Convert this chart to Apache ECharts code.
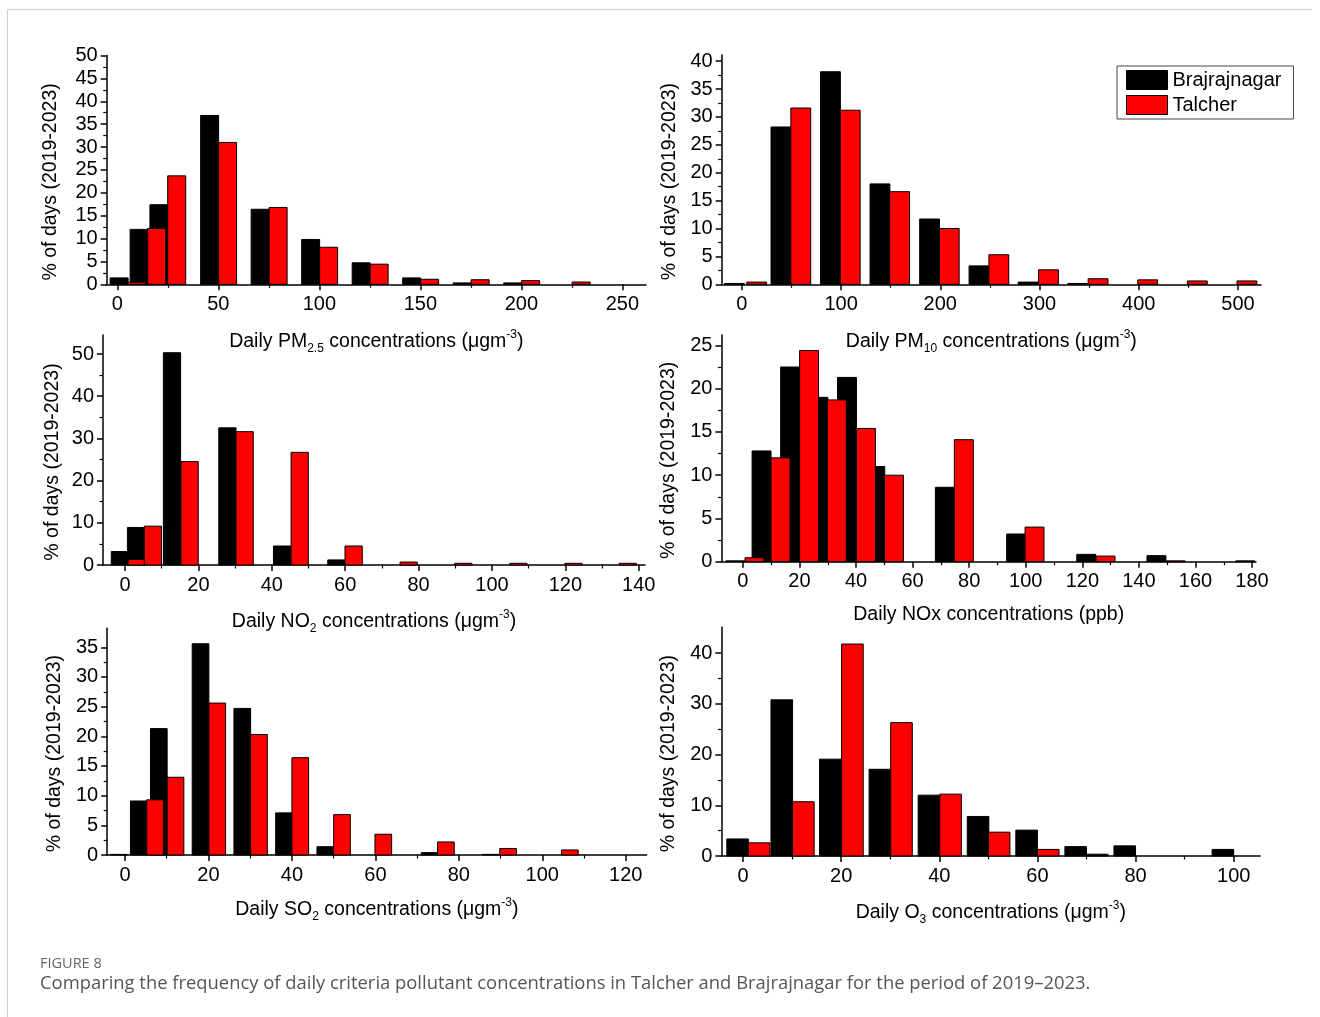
<!DOCTYPE html>
<html>
<head>
<meta charset="utf-8">
<script src="https://cdn.jsdelivr.net/npm/echarts@6/dist/echarts.min.js"></script>
<style>
html,body{margin:0;padding:0;background:#fff;}
#chart{width:1320px;height:1017px;}
</style>
</head>
<body>
<div id="chart"></div>
<script>
// ================= DATA =================
const stationNames = ['Brajrajnagar', 'Talcher'];

// PM2.5 (µg m-3): bin centres and % of days
const pm25BrajBins = [0.9, 10.8, 20.6, 45.7, 70.7, 95.7, 120.7, 145.7, 170.7, 195.7];
const pm25BrajPct  = [1.4, 12.0, 17.4, 36.9, 16.4, 9.8, 4.7, 1.4, 0.3, 0.3];
const pm25TalBins  = [9.5, 19.5, 29.4, 54.6, 79.6, 104.6, 129.6, 154.6, 179.6, 204.6, 229.6];
const pm25TalPct   = [0.45, 12.2, 23.7, 31.0, 16.8, 8.1, 4.4, 1.1, 1.0, 0.8, 0.5];
const pm25BinWidth = 8.9;
const pm25XTicks = [0, 50, 100, 150, 200, 250];
const pm25YTicks = [0, 5, 10, 15, 20, 25, 30, 35, 40, 45, 50];

// PM10 (µg m-3)
const pm10BrajBins = [-7.5, 39.4, 89.3, 139.2, 189.2, 239.0, 288.5, 338.5];
const pm10BrajPct  = [0.15, 28.2, 38.1, 18.0, 11.7, 3.3, 0.4, 0.15];
const pm10TalBins  = [15.0, 59.4, 109.2, 159.0, 209.0, 259.0, 309.0, 359.0, 409.0, 459.0, 509.0];
const pm10TalPct   = [0.4, 31.6, 31.2, 16.6, 10.0, 5.3, 2.6, 1.0, 0.8, 0.6, 0.6];
const pm10BinWidth = 20;
const pm10XTicks = [0, 100, 200, 300, 400, 500];
const pm10YTicks = [0, 5, 10, 15, 20, 25, 30, 35, 40];

// NO2 (µg m-3)
const no2BrajBins = [-1.4, 3.0, 12.8, 27.9, 42.8, 57.6];
const no2BrajPct  = [3.2, 8.9, 50.3, 32.5, 4.5, 1.2];
const no2TalBins  = [3.2, 7.6, 17.6, 32.6, 47.6, 62.3, 77.3, 92.2, 107.2, 122.2, 137.0];
const no2TalPct   = [1.3, 9.2, 24.5, 31.6, 26.7, 4.5, 0.7, 0.4, 0.4, 0.4, 0.4];
const no2BinWidth = 4.7;
const no2XTicks = [0, 20, 40, 60, 80, 100, 120, 140];
const no2YTicks = [0, 10, 20, 30, 40, 50];

// NOx (ppb)
const noxBrajBins = [-2.7, 6.6, 16.7, 26.7, 36.8, 46.8, 71.4, 96.6, 121.4, 146.2, 177.6];
const noxBrajPct  = [0.1, 12.8, 22.5, 19.0, 21.3, 11.0, 8.6, 3.2, 0.85, 0.7, 0.1];
const noxTalBins  = [4.1, 13.3, 23.4, 33.2, 43.5, 53.4, 78.1, 103.1, 128.2, 153.0];
const noxTalPct   = [0.46, 12.0, 24.4, 18.7, 15.4, 10.0, 14.1, 4.0, 0.65, 0.1];
const noxBinWidth = 6.7;
const noxXTicks = [0, 20, 40, 60, 80, 100, 120, 140, 160, 180];
const noxYTicks = [0, 5, 10, 15, 20, 25];

// SO2 (µg m-3)
const so2BrajBins = [-1.5, 3.3, 8.1, 18.1, 28.1, 38.1, 48.0, 73.0, 87.6];
const so2BrajPct  = [0.1, 9.1, 21.3, 35.6, 24.7, 7.1, 1.4, 0.4, 0.1];
const so2TalBins  = [7.2, 12.1, 22.1, 32.1, 42.0, 52.0, 61.9, 76.9, 91.8, 106.6];
const so2TalPct   = [9.3, 13.1, 25.6, 20.3, 16.4, 6.8, 3.5, 2.2, 1.1, 0.85];
const so2BinWidth = 4.0;
const so2XTicks = [0, 20, 40, 60, 80, 100, 120];
const so2YTicks = [0, 5, 10, 15, 20, 25, 30, 35];

// O3 (µg m-3)
const o3BrajBins = [-1.1, 7.9, 17.8, 27.9, 37.9, 47.9, 57.8, 67.8, 72.2, 77.8, 97.8];
const o3BrajPct  = [3.36, 30.8, 19.1, 17.1, 12.0, 7.8, 5.1, 1.85, 0.35, 2.0, 1.3];
const o3TalBins  = [3.3, 12.3, 22.3, 32.3, 42.3, 52.2, 62.2];
const o3TalPct   = [2.6, 10.7, 41.8, 26.3, 12.2, 4.7, 1.3];
const o3BinWidth = 4.4;
const o3XTicks = [0, 20, 40, 60, 80, 100];
const o3YTicks = [0, 10, 20, 30, 40];

const yAxisTitle = '% of days (2019-2023)';
const xTitles = [
  'Daily PM{sub|2.5} concentrations (μgm{sup|-3})',
  'Daily PM{sub|10} concentrations (μgm{sup|-3})',
  'Daily NO{sub|2} concentrations (μgm{sup|-3})',
  'Daily NOx concentrations (ppb)',
  'Daily SO{sub|2} concentrations (μgm{sup|-3})',
  'Daily O{sub|3} concentrations (μgm{sup|-3})'
];
const captionLabel = 'FIGURE 8';
const captionText = 'Comparing the frequency of daily criteria pollutant concentrations in Talcher and Brajrajnagar for the period of 2019\u20132023.';

// ================= LAYOUT / STYLE =================
const FONT = '"Liberation Sans", Arial, sans-serif';
const CAPFONT = '"Open Sans", "Noto Sans", sans-serif';
const BLACK = '#000000';
const RED = '#ff0000';
const TICK_FS = 20;
const TITLE_FS = 19.5;

const panels = [
  { braj:[pm25BrajBins,pm25BrajPct], tal:[pm25TalBins,pm25TalPct], w:pm25BinWidth, xt:pm25XTicks, yt:pm25YTicks,
    grid:{left:106.7, top:55.5, width:539.3, height:228.8}, xMin:-5.25, xMax:261.7, yMax:50, xGap:44, yGap:46 },
  { braj:[pm10BrajBins,pm10BrajPct], tal:[pm10TalBins,pm10TalPct], w:pm10BinWidth, xt:pm10XTicks, yt:pm10YTicks,
    grid:{left:721.7, top:55, width:539.3, height:229.3}, xMin:-20.3, xMax:523.2, yMax:41.1, xGap:44, yGap:42 },
  { braj:[no2BrajBins,no2BrajPct], tal:[no2TalBins,no2TalPct], w:no2BinWidth, xt:no2XTicks, yt:no2YTicks,
    grid:{left:103, top:335, width:542, height:230}, xMin:-6.0, xMax:141.7, yMax:54.5, xGap:43.5, yGap:40 },
  { braj:[noxBrajBins,noxBrajPct], tal:[noxTalBins,noxTalPct], w:noxBinWidth, xt:noxXTicks, yt:noxYTicks,
    grid:{left:721.4, top:335, width:534.6, height:226.7}, xMin:-7.6, xMax:181.4, yMax:26.2, xGap:42.5, yGap:43 },
  { braj:[so2BrajBins,so2BrajPct], tal:[so2TalBins,so2TalPct], w:so2BinWidth, xt:so2XTicks, yt:so2YTicks,
    grid:{left:107.2, top:628.3, width:539.4, height:226.7}, xMin:-4.27, xMax:125, yMax:38.2, xGap:41.5, yGap:43 },
  { braj:[o3BrajBins,o3BrajPct], tal:[o3TalBins,o3TalPct], w:o3BinWidth, xt:o3XTicks, yt:o3YTicks,
    grid:{left:721.4, top:627.3, width:538.8, height:228.7}, xMin:-4.4, xMax:105.4, yMax:45.1, xGap:43.5, yGap:43 }
];

function midpoints(ticks) {
  const out = [];
  for (let i = 0; i < ticks.length - 1; i++) out.push((ticks[i] + ticks[i + 1]) / 2);
  return out;
}
function zip(a, b) { return a.map((v, i) => [v, b[i]]); }

function makeRender(binWidth, fill) {
  return function (params, api) {
    const c = api.value(0), v = api.value(1);
    const p0 = api.coord([c - binWidth / 2, v]);
    const p1 = api.coord([c + binWidth / 2, 0]);
    return {
      type: 'rect',
      shape: { x: p0[0], y: p0[1], width: p1[0] - p0[0], height: p1[1] - p0[1] },
      style: { fill: fill, stroke: '#000', lineWidth: 1 }
    };
  };
}

const richTitle = {
  sub: { fontSize: 12, fontFamily: FONT, color: BLACK, padding: [14, 0, 0, 0] },
  sup: { fontSize: 12, fontFamily: FONT, color: BLACK, padding: [0, 0, 14, 0] }
};

const grids = [], xAxes = [], yAxes = [], series = [];
panels.forEach((p, i) => {
  grids.push(Object.assign({ containLabel: false }, p.grid));
  const axisLine = { show: true, onZero: false, lineStyle: { color: BLACK, width: 1.5 } };
  xAxes.push({
    type: 'value', gridIndex: i, min: p.xMin, max: p.xMax, position: 'bottom',
    axisLine: axisLine,
    axisTick: { show: true, inside: false, length: 6, customValues: p.xt, lineStyle: { color: BLACK, width: 1.5 } },
    axisLabel: { show: true, customValues: p.xt, margin: 10, fontSize: TICK_FS, fontFamily: FONT, color: BLACK },
    splitLine: { show: false },
    name: xTitles[i], nameLocation: 'middle', nameGap: p.xGap,
    nameTextStyle: { fontSize: TITLE_FS, fontFamily: FONT, color: BLACK, rich: richTitle }
  });
  xAxes.push({
    type: 'value', gridIndex: i, min: p.xMin, max: p.xMax, position: 'bottom',
    axisLine: { show: false, onZero: false },
    axisTick: { show: true, inside: false, length: 3.5, customValues: midpoints(p.xt), lineStyle: { color: BLACK, width: 1.2 } },
    axisLabel: { show: false }, splitLine: { show: false }
  });
  yAxes.push({
    type: 'value', gridIndex: i, min: 0, max: p.yMax, position: 'left',
    axisLine: axisLine,
    axisTick: { show: true, inside: false, length: 6, customValues: p.yt, lineStyle: { color: BLACK, width: 1.5 } },
    axisLabel: { show: true, customValues: p.yt, margin: 9, fontSize: TICK_FS, fontFamily: FONT, color: BLACK },
    splitLine: { show: false },
    name: yAxisTitle, nameLocation: 'middle', nameRotate: 90, nameGap: p.yGap,
    nameTextStyle: { fontSize: TITLE_FS, fontFamily: FONT, color: BLACK, padding: [0, 24, 0, 0] }
  });
  yAxes.push({
    type: 'value', gridIndex: i, min: 0, max: p.yMax, position: 'left',
    axisLine: { show: false, onZero: false },
    axisTick: { show: true, inside: false, length: 3.5, customValues: midpoints(p.yt), lineStyle: { color: BLACK, width: 1.2 } },
    axisLabel: { show: false }, splitLine: { show: false }
  });
  const xi = i * 2, yi = i * 2;
  series.push({
    type: 'custom', name: stationNames[0], xAxisIndex: xi, yAxisIndex: yi,
    data: zip(p.braj[0], p.braj[1]), encode: { x: 0, y: 1 },
    renderItem: makeRender(p.w, BLACK), itemStyle: { color: BLACK }, silent: true, z: 2
  });
  series.push({
    type: 'custom', name: stationNames[1], xAxisIndex: xi, yAxisIndex: yi,
    data: zip(p.tal[0], p.tal[1]), encode: { x: 0, y: 1 },
    renderItem: makeRender(p.w, RED), itemStyle: { color: RED }, silent: true, z: 3
  });
});

const chart = echarts.init(document.getElementById('chart'), null, { renderer: 'canvas' });
chart.setOption({
  animation: false,
  backgroundColor: '#ffffff',
  grid: grids,
  xAxis: xAxes,
  yAxis: yAxes,
  series: series,
  legend: {
    show: true, selectedMode: false, orient: 'vertical',
    left: 1117, top: 66,
    itemWidth: 41, itemHeight: 19, itemGap: 5,
    padding: [4, 12, 4, 9],
    borderColor: '#444', borderWidth: 1,
    icon: 'rect',
    textStyle: { fontSize: 20, fontFamily: FONT, color: BLACK },
    data: [
      { name: stationNames[0], itemStyle: { color: BLACK, borderColor: '#000', borderWidth: 1 } },
      { name: stationNames[1], itemStyle: { color: RED, borderColor: '#000', borderWidth: 1 } }
    ]
  },
  graphic: [
    { type: 'line', shape: { x1: 7.5, y1: 9.5, x2: 1312, y2: 9.5 }, style: { stroke: '#cfcfcf', lineWidth: 1 }, silent: true },
    { type: 'line', shape: { x1: 7.5, y1: 9.5, x2: 7.5, y2: 1017 }, style: { stroke: '#cfcfcf', lineWidth: 1 }, silent: true },
    { type: 'text', left: 40, top: 956, style: { text: captionLabel, fontSize: 14.5, fontFamily: CAPFONT, fill: '#666' }, silent: true },
    { type: 'text', left: 40, top: 975, style: { text: captionText, fontSize: 18.4, fontFamily: CAPFONT, fill: '#555' }, silent: true }
  ]
});
</script>
</body>
</html>
